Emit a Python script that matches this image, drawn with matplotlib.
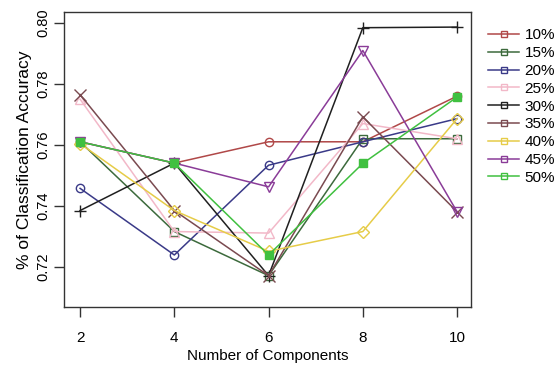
import matplotlib
matplotlib.use("Agg")
import matplotlib.pyplot as plt
from matplotlib.lines import Line2D

components = [2, 4, 6, 8, 10]
labels = ["10%", "15%", "20%", "25%", "30%", "35%", "40%", "45%", "50%"]

acc_10 = [0.761, 0.754, 0.761, 0.761, 0.776]
acc_15 = [0.761, 0.7315, 0.717, 0.762, 0.762]
acc_20 = [0.7457, 0.7238, 0.7533, 0.761, 0.7686]
acc_25 = [0.775, 0.7315, 0.731, 0.767, 0.762]
acc_30 = [0.7384, 0.754, 0.717, 0.7985, 0.7987]
acc_35 = [0.7765, 0.7384, 0.717, 0.7692, 0.738]
acc_40 = [0.7604, 0.7384, 0.725, 0.7315, 0.7686]
acc_45 = [0.761, 0.754, 0.7462, 0.791, 0.738]
acc_50 = [0.761, 0.754, 0.7238, 0.7539, 0.7757]

series = [acc_10, acc_15, acc_20, acc_25, acc_30, acc_35, acc_40, acc_45, acc_50]
colors = ["#b04848", "#3c6a3c", "#3a3a88", "#f2b8c8", "#202020",
          "#7a4a50", "#e6cc48", "#8a3c98", "#40c040"]
markers = ["o", "s", "o", "^", "+", "x", "D", "v", "s"]
msizes = [6, 6, 6, 7, 9, 8, 6, 7, 6]

plt.rcParams["font.family"] = ["Liberation Sans", "DejaVu Sans"]

fig = plt.figure(figsize=(5.57, 3.69), dpi=100)
ax = fig.add_axes([0.115, 0.168, 0.731, 0.799])

for vals, c, m, ms in zip(series, colors, markers, msizes):
    face = c if c == "#40c040" else "none"
    ax.plot(components, vals, color=c, lw=1.1, marker=m, ms=ms,
            mfc=face, mec=c, mew=1.0)

ax.set_xlim(1.66, 10.30)
ax.set_ylim(0.7067, 0.8036)
ax.set_xticks(components)
ax.set_yticks([0.72, 0.74, 0.76, 0.78, 0.80])
ax.set_yticklabels(["0.72", "0.74", "0.76", "0.78", "0.80"], rotation=90, va="center")
ax.tick_params(direction="out", length=7, width=1, color="#333333")
ax.tick_params(axis="x", labelsize=11, pad=10)
ax.tick_params(axis="y", labelsize=10.5, pad=3)
for sp in ax.spines.values():
    sp.set_linewidth(1)
    sp.set_color("#333333")

ax.set_xlabel("Number of Components", fontsize=11, labelpad=3)
ax.set_ylabel("% of Classification Accuracy", fontsize=12.5, labelpad=3)

handles = [Line2D([0], [0], color=c, lw=1.1, marker="s", ms=5, mfc="none", mec=c)
           for c in colors]
fig.legend(handles, labels, loc="upper left", bbox_to_anchor=(0.866, 0.94),
           frameon=False, fontsize=11, handlelength=2.0, handletextpad=0.35,
           labelspacing=0.25, borderaxespad=0)

fig.savefig("out.png", dpi=100)
